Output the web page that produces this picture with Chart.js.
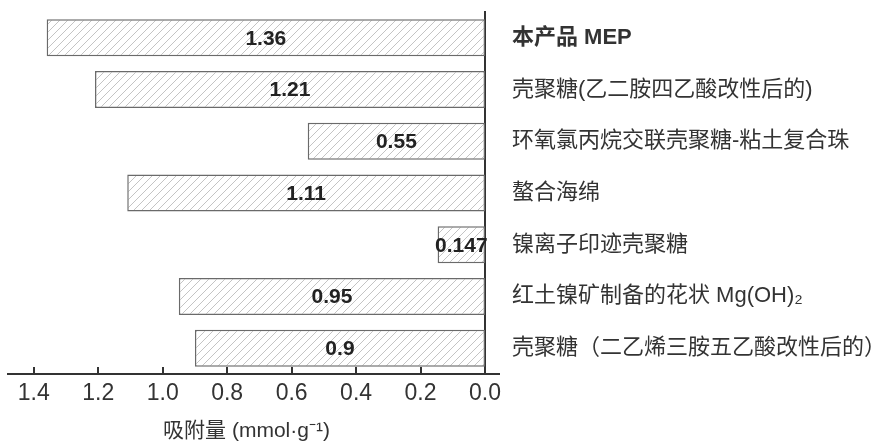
<!DOCTYPE html>
<html>
<head>
<meta charset="utf-8">
<script src="https://cdn.jsdelivr.net/npm/chart.js@4.4.1/dist/chart.umd.min.js"></script>
<style>
  html, body { margin: 0; padding: 0; background: #fff; }
  #wrap { width: 893px; height: 444px; }
</style>
</head>
<body>
<div id="wrap"><canvas id="chart" width="893" height="444"></canvas></div>
<script>
// categories (top to bottom) and adsorption values
const categories = [
  '本产品 MEP',
  '壳聚糖(乙二胺四乙酸改性后的)',
  '环氧氯丙烷交联壳聚糖-粘土复合珠',
  '螯合海绵',
  '镍离子印迹壳聚糖',
  '红土镍矿制备的花状 Mg(OH)₂',
  '壳聚糖（二乙烯三胺五乙酸改性后的）'
];
const values = [1.36, 1.21, 0.55, 1.11, 0.147, 0.95, 0.9];
const valueLabels = ['1.36', '1.21', '0.55', '1.11', '0.147', '0.95', '0.9'];
const xTicks = [0, 0.2, 0.4, 0.6, 0.8, 1.0, 1.2, 1.4];

const FONT = '"Liberation Sans", Arial, "Noto Sans CJK SC", sans-serif';
const AXIS = '#333';

// diagonal hatch fill
const makeHatch = () => {
  const c = document.createElement('canvas');
  c.width = 8; c.height = 8;
  const g = c.getContext('2d');
  g.fillStyle = '#fff';
  g.fillRect(0, 0, 8, 8);
  g.strokeStyle = '#c4c4c4';
  g.lineWidth = 1;
  g.beginPath();
  g.moveTo(0, 8); g.lineTo(8, 0);
  g.moveTo(-2, 2); g.lineTo(2, -2);
  g.moveTo(6, 10); g.lineTo(10, 6);
  g.stroke();
  return g.createPattern(c, 'repeat');
};

// values drawn in the middle of each bar
const barValues = {
  id: 'barValues',
  afterDatasetsDraw(chart) {
    const ctx = chart.ctx;
    const meta = chart.getDatasetMeta(0);
    ctx.save();
    ctx.font = 'bold 21px ' + FONT;
    ctx.fillStyle = '#222';
    ctx.textAlign = 'center';
    ctx.textBaseline = 'middle';
    meta.data.forEach((bar, i) => {
      ctx.fillText(valueLabels[i], (bar.x + bar.base) / 2, bar.y + 1);
    });
    ctx.restore();
  }
};

// inward tick marks and a short run of the x axis past zero
const axisMarks = {
  id: 'axisMarks',
  afterDraw(chart) {
    const ctx = chart.ctx;
    const xs = chart.scales.x;
    const y = chart.chartArea.bottom;
    ctx.save();
    ctx.strokeStyle = AXIS;
    ctx.lineWidth = 2;
    ctx.beginPath();
    xTicks.forEach(v => {
      const px = Math.round(xs.getPixelForValue(v));
      ctx.moveTo(px, y);
      ctx.lineTo(px, y - 7);
    });
    ctx.moveTo(chart.chartArea.right - 1, y);
    ctx.lineTo(chart.chartArea.right + 15, y);
    ctx.stroke();
    ctx.restore();
  }
};

new Chart(document.getElementById('chart'), {
  type: 'bar',
  data: {
    labels: categories,
    datasets: [{
      data: values,
      backgroundColor: makeHatch(),
      borderColor: '#6a6a6a',
      borderWidth: 1.5,
      borderSkipped: false,
      categoryPercentage: 1,
      barPercentage: 0.715
    }]
  },
  options: {
    indexAxis: 'y',
    responsive: false,
    maintainAspectRatio: false,
    animation: false,
    layout: { padding: { left: 8, top: 12, right: 0, bottom: 0 } },
    plugins: {
      legend: { display: false },
      tooltip: { enabled: false }
    },
    scales: {
      x: {
        reverse: true,
        min: 0,
        max: 1.48,
        afterBuildTicks: (scale) => {
          scale.ticks = xTicks.map(v => ({ value: v }));
        },
        afterFit: (scale) => { scale.height = 70; },
        grid: { display: false, drawTicks: false },
        border: { display: true, color: AXIS, width: 2 },
        ticks: {
          padding: 6,
          color: '#333',
          font: { family: FONT, size: 23 },
          callback: (v) => Number(v).toFixed(1)
        },
        title: {
          display: true,
          text: '吸附量 (mmol·g⁻¹)',
          color: '#333',
          font: { family: FONT, size: 21 },
          padding: { top: 2, bottom: 0 }
        }
      },
      y: {
        position: 'right',
        afterFit: (scale) => {
          scale.width = 408;
          scale.paddingTop = 0;
          scale.paddingBottom = 0;
        },
        grid: { display: false, drawTicks: false },
        border: { display: true, color: AXIS, width: 2 },
        ticks: {
          padding: 27,
          crossAlign: 'near',
          color: '#333',
          font: (ctx) => ({
            family: FONT,
            size: 22,
            weight: ctx.index === 0 ? 'bold' : 'normal'
          })
        }
      }
    }
  },
  plugins: [barValues, axisMarks]
});
</script>
</body>
</html>
